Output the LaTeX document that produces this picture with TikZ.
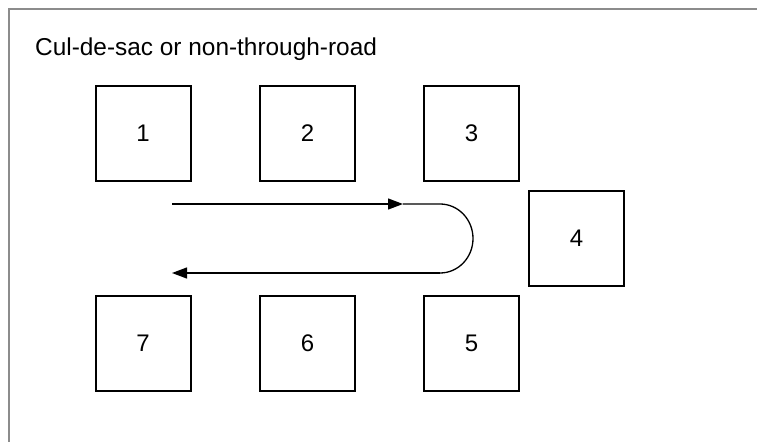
\documentclass[tikz,border=0pt]{standalone}
\usepackage{fontspec}
\setmainfont{Liberation Sans}
\usetikzlibrary{arrows.meta}
\begin{document}
\begin{tikzpicture}[x=1pt,y=-1pt,
  lot/.style={draw=black,line width=2pt,minimum width=95pt,minimum height=95pt,inner sep=0pt,font=\fontsize{24}{27}\selectfont},
  road/.style={line width=1.3pt,-{Triangle[length=15pt,width=11pt]}},
  frameline/.style={draw=black!45,line width=2pt}]
\useasboundingbox (0,0) rectangle (757,442);
\draw[frameline] (757,9) -- (9,9) -- (9,442);
\node[anchor=base west,font=\fontsize{24.4}{28}\selectfont,inner sep=0pt] (title) at (35,55) {Cul-de-sac or non-through-road};
\node[lot] (l1) at (143,133) {1};
\node[lot] (l2) at (307.5,133) {2};
\node[lot] (l3) at (471.5,133) {3};
\node[lot] (l4) at (576.5,238) {4};
\node[lot] (l5) at (471.5,343) {5};
\node[lot] (l6) at (307.5,343) {6};
\node[lot] (l7) at (143,343) {7};
\coordinate (s) at (172,204);
\coordinate (m) at (403,204);
\coordinate (t) at (440,204);
\coordinate (b) at (440,273);
\coordinate (e) at (172,273);
\draw[road] (s) -- (m);
\draw[line width=1.3pt,line join=round] (m) -- (t) arc[start angle=-90,end angle=90,x radius=33,y radius=34.5] -- (b);
\draw[road] (b) -- (e);
\end{tikzpicture}
\end{document}
